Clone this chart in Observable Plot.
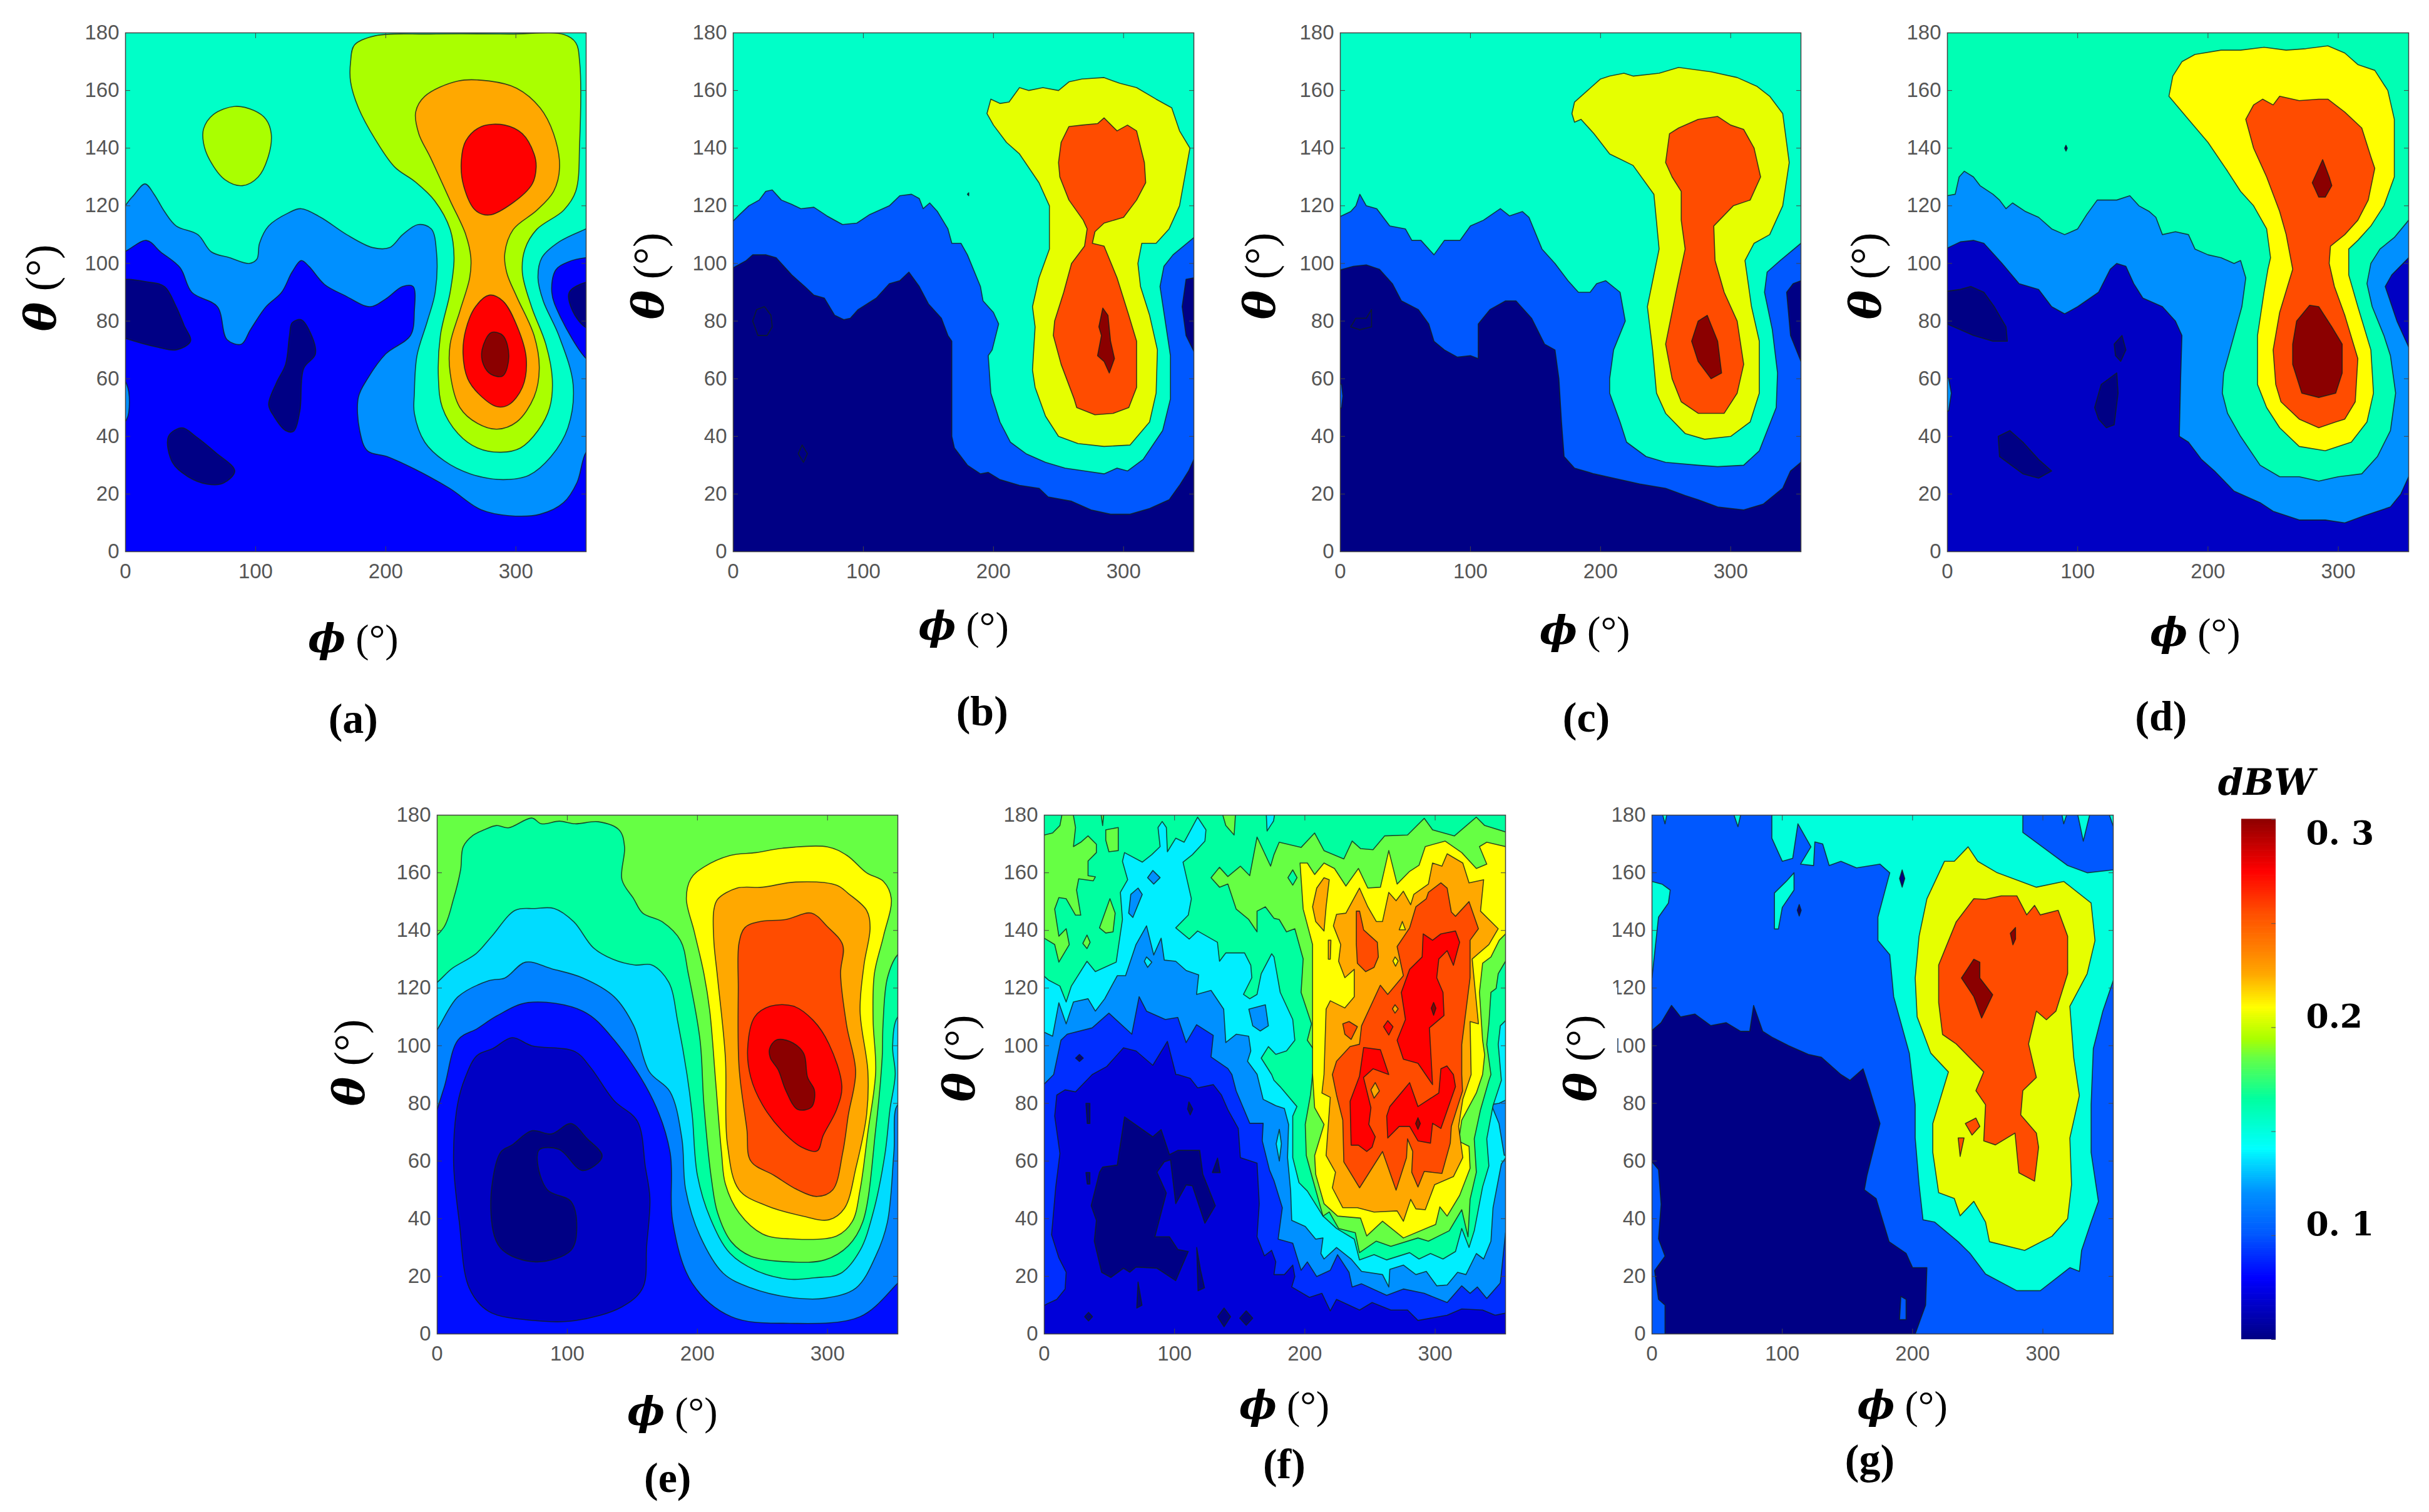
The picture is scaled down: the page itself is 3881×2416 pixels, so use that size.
<!DOCTYPE html>
<html><head><meta charset="utf-8">
<script src="https://cdn.jsdelivr.net/npm/d3@7"></script>
<script src="https://cdn.jsdelivr.net/npm/@observablehq/plot@0.6"></script>
<style>
html,body{margin:0;background:#fff}
#fig{position:relative;width:3881px;height:2416px;overflow:hidden}
#fig svg{position:absolute;background:transparent}
.lab{position:absolute;transform:translate(-50%,-50%);white-space:nowrap;color:#000;font-family:"Liberation Serif",serif}
.sym{font-weight:700;font-style:italic;font-family:"DejaVu Serif",serif}
.unit{font-family:"Liberation Serif",serif;margin-left:.25em}
.mask{position:absolute;background:#fff}
</style></head><body><div id="fig"></div>
<script>
// Colour scale knots (dBW)
const barDomain=[.05,.065,.079,.1,.12,.135,.141,.15,.155,.165,.185,.194,.205,.209,.225,.237,.255,.2746,.3];
const barColors=["#000085","#0000c4","#0000ff","#0058ff","#0090ff","#00dcff","#00ffff","#00ffdc","#00ffc8","#00ffa0","#66ff44","#aaff00","#e6ff00","#ffff00","#ffa800","#ff8000","#ff4c00","#ff0000","#8b0000"];
const barTicks=[.05,.1,.15,.2,.25,.3];
const barLabels=["0. 3","0.2","0. 1"];
const barLabelAt=[.293,.205,.105];
const phiTicks=[0,100,200,300];
const thetaTicks=[0,20,40,60,80,100,120,140,160,180];

// Each panel: base level, then iso-level outlines as phi,theta pairs in degrees, lowest first
const aBase=.079;
const aLevels=[.12,.12,.155,.194,.194,.225,.2746,.2746,.3,.05,.05,.05,.05];
const aLines=[
[-6,104,16,108,27,104,42,98.5,51,90,70.6,85,78,73.6,89,72,96,77,108,85,120,90,128,97,135,101,141,99,153,92.7,168,89,188,85,200,87.7,213,92,221,92,222,83.5,219,75,200,68.6,186,60,179,53.6,180,42,186,35,201,33,222,28.7,249,22,273,14.6,294.6,12.5,318.6,13,336.6,17,347,24,354,34.5,362,37,362,65,354,67,333.6,82,327.6,90,330.6,97.7,340,100.5,354,102,364,102,364,190,-6,190],
[-4,44,1,46,3,52,1,58,-4,61],
[-6,118,5,123,15,127.6,22,124,30,118,39,113,55.6,110,66,104,80,102,95,100,101,101.5,103,107,110,113,125,117.5,135,119,150,116,170,110,190,105.5,203,105.5,213,110,225,113.5,235,112,239,104,238,90,232,80,224,68,222,55,222,48,230,38,245,31.5,265,27,290,25,310,26.5,327,33,340,43,344,58,333,75,321,87,317,95,320,102,333.6,107.6,354,112,364,114,364,190,-6,190],
[60,146.7,67.6,151.7,84,154.5,99,153,108,150,112,145,110,137.5,102,130,90,127,76.6,129,64.6,136,60,141.7],
[173,170,176,175.8,192,179,234,179.6,295,179.6,337,179.4,346,176.6,349,170,349,141.7,346,125,336.6,118.4,316,111.8,307,105,305,96.8,312,85,323,72,328,60,326,50,317,42,303.6,36,288.5,34.5,270.5,36,255.5,41,243.5,50,240.5,60,242,75,249.5,90,252.5,102,249.5,111.8,237.5,121.8,222.4,128.4,207,133.4,192,143,179,154,173,163],
[223,152.5,230,158,255.5,163.3,279.5,163.3,300.6,160.8,318.6,154,329,145,333.6,133.4,329,125,316,118.4,298,111.8,291.5,103.5,293,96.8,300.6,88.5,314,75,318,63.6,314,53.7,300.6,45,285.5,42.5,270.5,44.5,257,50,249.5,62,249.5,72,257,83.5,264.5,95,265.4,102,261.5,110,249.5,121.8,234.4,136.7,225.4,145],
[258,135,261.5,142.5,273.5,147.5,291.5,148,305,145,314,138,315.6,133.4,312.6,127.6,297.6,121,279.5,116.8,269,118.4,260,126.7],
[279.5,89,290,87,300.6,78.6,308,67,305,57,294.6,51,285.5,50.3,272,54.5,263,60,259.4,68.6,261.5,77,269,85],
[274,70,281,76,290,75,294.6,67.8,290,61,281,61.5,275,65],
[-6,93.5,18,93.5,30,92,39,85,45,78.6,50,73,39,70,24,71,0,74,-6,75],
[135,80.5,141,77,146,68.6,137,63.6,134,48.7,129,41.7,123,42,114,47,110,51,116,58.6,123,65,126,75,128,79.4],
[33,40,43.5,43,54,40,69,34.5,84,28,75,23.7,63,23.4,48,26,36,31],
[364,93.5,354,93.5,341,90,343.6,83.5,354,77.7,364,77]
];

const bBase=.05;
const bLevels=[.1,.155,.205,.255,.3,.05,.05,.05];
const bLines=[
[-6,97,10,101,15,103,25,103,33,102,45,96,55,92,62,89,70,88,78,82,85,80.5,90,81,96,84,110,88,120,93,128,94,135,97,143,92,150,86,160,81,165,75,168,73,168,40,170,36,180,30,190,27,196,27.5,205,25,220,23,235,22,242,19,260,17.5,275,14.5,290,13,305,13,320,15,335,18,343,23,350,28,354,32,364,32,364,69,354,69.5,348,75,345,85,348,94.5,354,95,364,95,364,190,-6,190],
[-6,112,5,117,12,120,20,122,25,125,30,125.5,37,122,45,120.5,52,119,62,119.5,72,116.5,84,113.5,95,114,105,117,120,120,128,123.5,137,124,143,122.5,146,119,151,121,157,118,165,112,168,107,175,107,180,103,190,92,192,87,200,83,204,79,199,70,196,68,198,55,205,45,213,38,225,34,240,31,255,29,270,28,285,27,295,29,303,28,315,32,330,42,336,53,336,68,332,80,328,92,331,99,338,103,354,109,364,110,364,190,-6,190],
[195,152,198,157,205,155.5,212,156,220,161,227,160,238,161,250,160,258,163,268,164,285,164.5,297,162.5,310,161,325,157,337,154,343,146,351,140,347,130,343,120,335,112,325,107,314,107,311,100,313,92,320,82,326,70,325,55,320,45,305,37,285,36.5,265,37.5,250,40,240,47,232,57,230,63,232,78,230,85,235,95,243,105,243,120,235,128,220,138,210,142,200,148],
[250,135,252,142,258,147.5,268,148,280,148.5,285,150.5,295,146,303,148,310,146,316,135,317,128,310,122,300,116,285,114,278,111,276,107,285,106,295,95,304,82,310,73,310,57,304,50,292,48,278,47.5,264,50,262,53,252,65,246,75,247,80,254,90,260,100,270,106,272,112,269,115,258,122,251,130],
[281,78,284,84.5,288,82,290,73,293,67,289,62,285,66,280,68,283,75],
[15,80,18,84,24,85,29,82,30,78,26,75,19,75],
[50,34,53,37,57,34,54,31],
[180,124,181,124.5,181,123.5]
];

const cBase=.05;
const cLevels=[.1,.1,.155,.205,.255,.3,.05];
const cLines=[
[-6,97,10,99,20,99.5,30,98,40,93,47,87,60,84,68,79,72,73,80,70,90,67.5,100,68,106,67,106,79,115,84,127,87,135,87,147,81,157,72,165,70,168,60,170,45,172,33,180,29,195,27,210,25.5,230,23.5,250,22,265,19.5,275,18,290,15.5,310,14.5,325,16.5,340,22,346,28,354,31,364,31,364,66,354,66,346,75,343,90,348,93,354,94,364,94,364,190,-6,190],
[-4,48,1,50,2,54,1,58,-4,59],
[-6,115,8,118,12,120,15,124,20,120,28,119,38,113,50,112,55,108,62,108,72,103,80,108,92,108,100,113,110,115,123,119,130,116.5,140,118,145,116,155,105,165,100,175,94,183,90,192,90,197,93,204,94,215,90,219,80,210,70,207,60,207,55,215,45,220,38,235,33,250,31,275,30,290,29.5,310,30,322,35,335,50,336,62,332,77,326,90,328,97,338,101,354,107,364,108,364,190,-6,190],
[178,152,180,156,190,160,200,164,207,165,218,166,225,165,245,166,260,168,285,166.5,305,164.5,320,161.5,330,158,340,152,345,135,340,120,330,110,318,107,311,101,316,85,322,73,322,55,315,45,300,40,280,39,265,41,250,48,243,55,240,70,236,85,245,105,241,124,225,134,207,138,195,145,185,150,180,149],
[250,135,253,145,260,147,275,150,290,151,300,148,310,146.5,318,140,323,130,315,122,302,120,287,113,288,101,295,90,305,80,310,65,305,55,295,48,275,48,262,52,255,60,250,72,258,90,265,105,262,115,262,125,255,130],
[270,73,275,80,282,82,290,73,293,62,285,60,275,66],
[8,78,12,81,20,81,24,84,24,78,15,77]
];

const dBase=.065;
const dLevels=[.12,.12,.16,.209,.255,.3,.3,.05,.05,.05,.05,.05];
const dLines=[
[-6,104,10,107.5,20,108,28,107,42,100,55,93,70,91,80,85,90,82.5,100,85,116,90,125,98,130,100,137,99,143,93,150,88,165,85,175,80,180,75,179,60,178,40,185,38,195,32,205,28,220,21,240,17,250,14,270,11,290,11,305,10,320,12.5,340,15.5,348,20,354,26,364,26,364,71,354,71,345,80,336,92,341,96,354,102,364,102,364,190,-6,190],
[-4,47,1,49,3,55,1,60,-4,62],
[-6,123,6,124,9,130,13,132,20,130,25,127,35,124,40,122,45,119,50,121,60,118,70,116,80,112,90,110,100,112,107,117,115,122,130,122,140,123.5,147,120,155,118,160,116,165,110,175,111,185,110,190,105,200,103,210,102,220,100,225,101,229,95,226,85,220,75,212,62,211,55,215,48,225,40,240,30,255,26,270,26,285,24.5,300,26,318,27,330,33,340,42,344,55,340,68,335,75,326,85,322,93,325,100,332,105,343,109,354,115,364,117,364,190,-6,190],
[170,158,173,165,180,170,190,172.5,210,174,225,174,243,175,260,174,275,174.5,292,175.5,305,173,315,169,328,167,338,160,343,150,343,130,335,120,325,113,315,108,308,105,308,96,315,85,325,70,327,55,322,45,310,38,290,35,270,36.5,255,43,245,50,238,58,238,75,243,90,246,98,248,102,245,112,235,120,225,125,215,132,200,142,185,150],
[229,150,235,155,242,157,250,155,255,158,270,156.5,285,157,292,157,305,152.5,318,147,325,137,328,133,323,122,315,115,305,110,294,106,293,100,297,92,305,82,315,67,313,52,305,46,298,45,285,43,270,46,256,52,252,58,250,70,255,83,265,98,260,110,255,118,245,130,235,140],
[280,128,285,133,288,136,293,130,295,127,290,123,285,123],
[265,72,268,80,278,85.5,285,85,295,78,303,72,303,62,298,55,285,53.5,272,55,265,65],
[-6,90,10,91,18,92,28,90,36,85,45,78,46,73,35,73,20,75,0,79,-6,80],
[128,72,134,75,137,70,133,66,129,68],
[113,50,118,58,130,62,131,55,128,44,122,43,116,46],
[39,40,48,42,58,38,70,32,80,28,70,25.5,58,27,40,33],
[90,140,91,141,92,140,91,139]
];

const eBase=.082;
const eLevels=[.115,.135,.165,.185,.209,.225,.255,.2746,.3,.065,.05];
const eLines=[
[-6,72,5,85,16,102,31,106,46,110.4,70,115,112,112,136,102,166,81,179,63,181,39,196,17.6,226,6,271,3.7,325,6,354,17.6,364,22,364,190,-6,190],
[-6,103,16,117,40,122.6,52,123.5,68,129,88,126.7,112,123.5,136,117,151,107,163,91,179,84,188,68,191,50,202,34,220,21,241,16,271,12.7,298,12.4,322,16,337,27,346,38.8,351,63,354,79.5,364,80,364,190,-6,190],
[-6,121,12,127,30,132,42,138,60,147,75,147.6,90,147.6,105,143,120,134,135,130,152,128,165,128,178,122,185,108,192,90,196,76,200,55,210,40,225,28,245,22,270,19,290,19.5,310,21,325,29,335,42,344,62,348,78,352,90,350,100,354,110,364,112,364,190,-6,190],
[-6,137,5,141,12.6,151,18,161,20,169,27.6,173,36.6,175,45.6,176.4,54.7,175.6,72.7,179,80,177,94,177.9,106,177,124,177.7,140,174.8,144,169,142,157.6,151,151,158,146,173,143,187,136.5,193,125,202,102,205,79.5,211,53,215.5,42,226,32,241,27,271,25,298,25.7,316,30.6,327,38.8,337,71,342,96,342.6,107,346,123.5,354,131.6,364,134,364,190,-6,190],
[191.5,151,195,158,205,162,225,166,245,167,265,168.5,300,169,315,166,330,160,343,157,349,151,343,138,336,125,335,109,337,91,331,70,325,50,319,39,307,34,271,33,250,34.7,232,42,221.5,52,218.5,63,214,87.6,209.5,112,205,125,197.5,139.7],
[212.6,147,215.5,150.8,230.5,154.7,250,155,275.5,156.8,307,155.7,316,152.8,330,147,332.7,141,328,128,325,112,331,91,330,76,322,58,313,43.6,301,39.6,280,41,253,44.5,232,50,223,66,221.5,95.8,215.5,123.5,212.6,136.5],
[232,135.7,236.5,141,247,143,268,143.8,287.6,146,299.7,141.4,311.7,134.9,310,125,314.7,107,321.6,91,316,76,311.7,63,304,50,292,47.7,277,50,259,55,241,60,238,71,232,92.5,231.4,120],
[238.6,99,244,110,256,113.7,274,113.7,289,108.8,301,100.7,311,86,307,77.9,296.7,68.9,292,63.5,280,64.8,265,70.5,250,79.5,241,89],
[255.5,99,260.6,102,271,101.5,281.6,97.4,284.7,89,290,84.4,287.6,78.7,277,77.9,268,84.4,262,91.7,256,95.8],
[15.6,79.5,21.6,89,30.6,96.6,42.7,99,57.7,102.8,72.7,100,105.8,98,117.8,92.5,135.9,81,153.9,73.8,160,58,163.5,47,161,30.6,158,16,142,9.4,105.8,4.6,75.7,4.6,39.7,7.8,24.6,16,17,38.8,12.6,60],
[48.7,63,57.7,65.6,72.7,70.5,87.8,69.4,102.8,73,114.8,68,126.8,61.6,111.8,56.7,93.8,64,78.7,64,77,60,84.7,50,102.8,46,107.3,37,102.8,29,75.7,25,48.7,29.8,41.2,43.6]
];

const fBase=.07;
const fLevels=[.09,.12,.138,.12,.12,.12,.12,.138,.138,.165,.138,.185,.185,.185,.185,.185,.185,.185,.165,.209,.225,.225,.225,.255,.255,.255,.2746,.2746,.2746,.2746,.3,.3,.209,.209,.225,.225,.05,.05,.05,.05,.05,.05,.05,.05,.05,.05,.05];
const fLines=[
[-6,8.3,2.4,10.5,9.6,12,16,15.6,16.8,21.4,11.2,26.4,5.6,34.4,8.8,51,12,62.6,8,75.6,9.6,82.9,16,84.7,24,84,36.8,90,48,92.8,60.8,99.3,70.4,98.2,83.3,93.2,94.5,101.5,101,90,102.5,90,112,88.7,117.7,85.4,129.7,86.5,136,82.9,140.9,77.8,148.9,71.3,150.5,61.2,163.3,59.3,165,45.2,163.3,33.7,169,27.1,174.5,29,177.7,25,176.3,20.6,184.3,20.6,190.7,23.9,192.3,19.9,189.9,16.3,203.5,12.7,213.1,14.1,219.5,8,224.3,12,242,8.3,251.6,10.9,266,8.3,278.8,8.3,286.8,4.7,309.2,6.5,320.4,8.7,336.4,8.3,346,6.5,354,7.2,364,7,364,190,-6,190],
[-6,84,7.2,90,12.8,101.9,17.6,104,36.8,106.2,49.6,111.3,67.2,104,72.8,117,78.5,112,92.9,109.1,102.5,109.8,108.9,101.1,116.9,107.3,129.7,103.6,128,96.1,140.9,92.1,144,90,147.3,84.3,157.7,73.1,168,73.1,167.3,67,172.9,56.8,176.3,53.2,182.7,43.8,179.5,32.9,190.7,31.5,197.1,22.1,201.9,25,209.1,19.9,219.5,22.1,225.1,27.5,233.9,21.4,236.3,16.3,243.5,17.4,262.8,13.4,275.6,15.6,291.6,14.1,309.2,10.9,320.4,16.7,326.8,14.1,332.4,16.3,339.6,12.3,350,17.7,354,35.1,364,35,364,190,-6,190],
[-6,106,6.4,103.3,11.2,114.9,16.8,107.6,22.4,115.2,33.6,116.3,39.2,112,46.4,116.3,56,124.3,62.4,124.3,70.4,135.1,78.5,141.6,84,131.5,89.7,137.3,92.1,129.7,100.9,129.3,108.9,126.1,118.5,124.6,116.9,117.8,128,119.2,137.7,112.7,139.3,101.1,147.3,104,156.9,103.3,158.5,98.2,156,94.6,163.3,90.1,168,81.4,177.7,79.2,184.3,78.2,187.5,72.7,186.7,61.2,189.1,49.6,189.9,39.4,200.3,37.3,208.3,32.9,213.9,33.3,212.3,27.9,214.7,26,224.3,30,235.5,26,243.5,21.7,259.6,20.6,264.4,16.3,265.2,22.4,275.6,23.9,285.2,20.6,293.2,21.7,301.2,16.7,309.2,17,317.2,21.4,323.6,20.6,331.6,27.9,337.2,26,342.8,32.2,344.4,43.8,350.8,59,354,61,364,61,364,190,-6,190],
[83.3,160.8,88.9,158.3,84,156.1,79.3,158.3],
[72,154.7,75.2,152.5,68,144.5,64.8,146,66.4,152.5],
[157,112.7,169.7,114.2,172,106.9,165.7,105.1,160,106.9],
[343,79.6,349,80,358,82,358,62,353,62,349,73],
[178,66,180.4,71,182,66,180.4,60],
[78.5,130.8,82.5,129,79.3,127.2,76.8,129.3],
[-6,126.5,3.2,122.8,12,120.7,16.8,115.2,20.8,120.7,32.8,129.3,39.2,125.7,55.2,129,60,143.8,58.4,153.2,64,157.6,60,164,61.6,167,75.2,163.7,82.5,166.3,88.9,169.1,87.3,175.7,90.5,177.8,93.7,175.7,94.5,167.3,100.9,172,107.3,170.6,117.7,179.3,124.1,174.9,123.3,171,113.7,166.3,106.5,163.7,112.9,151,110.5,145.3,100.9,140.9,111.3,137,117.7,139.8,132.9,135.9,134.5,129.3,139.3,132.2,153.7,132.2,158.5,127.9,159.3,123.6,152.9,117.8,157.7,116.3,163.3,117.8,166.5,125,174.5,131.9,176.3,130.8,181.1,118.5,190.7,109.1,192.3,101.9,185.9,98.2,177.7,97,172,99.7,166.5,95.7,174.5,90,176.3,88,181,85.8,193.9,78.9,190.7,75.6,190.7,61.2,195.5,52.5,201.9,49.6,213.9,40.9,224.3,36.6,237.9,32.9,241.9,25.7,253.1,27.5,262.8,25.7,280.4,28.2,287.6,26,296.4,27.9,306,26,315.6,28.6,320.4,36.6,326,30,330,35.8,336.4,51,341.2,58.3,339.6,67.7,344.4,79.2,350.8,88,348.4,100.5,350,106.9,354,108.7,364,109,364,190,-6,190],
[170,184,178,184,176,178,171,174.5],
[-6,173,0,173.1,6.4,173.8,12,176.4,15.2,184,20.8,184,24,175.7,22.4,169.1,28,170.6,33.6,172.8,40,169.9,40,167,33.6,164.1,33.6,159,39.2,158.6,37.6,157.2,26.4,157.9,24.8,154,28,145.3,24,145.3,16.8,151,11.2,151.4,8,147.4,11.2,138,16.8,140.6,19.2,135.1,11.2,129,8,135.1,0,137.3,-6,137],
[47.2,174.9,56.8,175.7,56.8,167.7,49.6,167.3,47.2,171.3],
[50.4,151,54.4,146,52.8,139.5,47.2,139.1,42.4,140.9],
[32.8,138.4,35.2,135.9,32.8,133.7,29.6,135.5],
[42.4,184,46.4,184,44.8,176.4],
[134.5,184,147.3,184,145.7,173.1,139.3,176.4],
[128,158.3,134.5,161.9,140.9,158.7,150.5,162.3,157.7,159,163.3,172.4,173.7,162.3,176.3,166.3,180.3,170.6,197.1,168.8,207.5,173.8,214.7,167.7,229.9,164.8,236.3,171,242.7,168.4,252.3,168,261.2,172.8,278.8,173.1,291.6,178.9,298,174.9,314.8,172.8,331.6,179.3,338,176.4,354,174.2,364,174,364,129,354,129.3,348.4,125,346.8,119.9,342.8,118.5,341.2,107.6,339.6,100.4,342.8,90,341.2,87.9,334.8,77.8,330,67.7,331.6,56.1,326.8,46.7,325.2,33.7,320.4,43.1,310.8,35.8,294.8,32.2,286.8,33.3,266,30.4,254.8,32.2,241.9,28.2,238.7,35.1,225.9,36.6,218.7,42.3,213.9,40.9,205.9,53.9,201.1,61.9,200.3,72.7,204.3,82.9,205.9,90,210.7,96.1,201.9,101.9,205.1,107.6,197.1,118.5,198.7,130.1,192.3,140.6,185.9,139.5,180.3,143.8,176.3,144.2,169.7,148.2,163.3,146.7,163.3,139.5,156.9,143.8,147.3,147.4,140.9,156.1,134.5,155],
[187,158.3,190.7,161,194,158.3,190.7,155.7],
[196.3,163.4,201.9,163.4,207.5,159.4,214.7,163.4,222.7,161.5,231.5,155.4,241.1,161.5,248.3,154.7,258,155,264.4,167.7,270.8,156.1,280.4,160.5,287.6,162.6,292.4,169.1,307.6,171,320.4,167,331.6,161.5,339.6,163,334,169.1,339.6,170.6,354,169.1,364,169,364,139,354,138.8,349.2,136.6,342.8,130.8,336.4,128.6,334,118.5,336.4,101.9,338,96.8,336.4,90,331.6,83.6,320.4,74.2,318,66.9,326,65.1,326.8,57.5,318.8,48.1,309.2,40.9,303.6,44.1,300.4,38,275.6,33.3,259.6,39.1,247.5,34,242.7,40.2,225.1,40.9,214.7,45.2,208.3,55.4,207.5,61.9,214.7,72.7,207.5,78.5,205.9,90,205.9,135.1,198.7,147.4],
[221.9,141.6,224.3,145.6,231.5,146,241.9,154.7,248.3,148.2,254.8,143.1,259.6,143.1,264.4,153.2,270,150.3,275.6,153.6,281.2,148.9,283.6,152.5,294.8,156.1,298,163.4,305.2,162.3,309.2,166.6,321.2,163.4,326,156.5,337.2,157.6,334.8,146.7,348.4,140.6,341.2,135.1,328.4,130.1,333.2,107.6,326.8,108.4,327.6,90,321.2,81.4,318,72,321.2,61.2,314,54.6,299.6,51.8,292.4,43.1,285.2,43.4,281.2,46.7,275.6,39.1,270.8,42.7,253.1,42.3,240.3,43.8,229.1,43.8,221.1,50.7,223.5,56.1,216.3,61.9,219.5,82.1,213.1,83.6,214.7,90,216.3,112.7,219.5,115.6,230.7,113.1,237.9,117,237.9,126.5,230.7,123.6,225.9,129.3,227.5,135.1],
[214.7,158.3,218.7,157.6,216.3,148.2,214.7,139.8,208.3,143.1,205.9,148.2,209.1,154.7],
[218,136.6,220,136.6,219.5,130,218,130],
[270.8,134.4,280.4,140.9,285.2,148.2,293.2,151,294.8,153.2,304.4,156.5,309.2,154.7,312.4,146.4,315.6,144.9,326,150,333.2,140.6,326.8,136.6,326.8,123.6,320.4,100.4,320.4,90,321,84.3,312.4,72,311.6,66.2,305.2,55.7,291.6,56.4,286.8,51,282,56.1,282.8,63.3,278.8,67.7,278,61.2,270,49.9,259.6,63.3,242,50.7,229.9,59.7,229.1,74.2,224.3,82.9,221.1,90,224.3,94.6,234.7,99.7,241.9,100.5,243.5,106.9,257.9,121,263.6,117.8,275.6,124.3],
[239.5,146.7,242,146.7,245.1,140.2,255.6,135.9,256.4,130.8,253.1,127.2,246.7,125.7,240.3,128.6,239.5,135.1],
[229.1,107.6,233.9,108.4,240.3,106.6,235.5,102.2,230.7,104],
[263.6,108.7,267.6,106.6,264.4,103.7,260.4,106.6],
[290.8,138.8,298,136.6,304.4,138.8,315.6,139.8,318.8,135.9,314,127.9,309.2,133,302.8,130.1,301.2,123.6,306,118.5,306.8,110.5,295.6,106.2,298,86.5,286.8,93.9,275.6,95.3,270.8,101.9,277.2,109.1,274,118.5,280.4,126.5,290,130.8],
[245.1,99.4,258,98.6,264.4,90,252.3,92,245,89,250.7,78.5,249.1,72.7,254,68.4,251.6,64.8,247.5,63.3,241.1,65.5,235.5,65.5,234.7,80.7,241.9,89.4],
[262.8,75.6,265.2,78.9,280.4,87.2,286.8,78.9,302.8,83.6,304.4,92,309,93,314,90,315.6,85.8,304.4,71.3,298,73.1,296.4,66.2,286.8,67,280.4,72,272.4,72,263.6,68],
[297,113,298.8,115,300.6,113,298.8,110.6],
[285,73,286.8,75,288.6,73,286.8,71],
[274.8,143.1,277.2,140.2,272.4,140.2],
[269.2,130.8,271.6,129.4,269.6,127.6,267.6,129.4],
[269.2,114.2,271.6,112.8,269.2,111.3,267.2,112.8],
[254,87.2,257.2,84.3,253.1,81.8,250.7,84.7],
[61.6,75.3,83.3,68.4,89.7,70.9,96.1,62.2,102.5,63.7,119.3,63.7,121.7,55.4,131.3,44.5,123.3,38.4,113.7,51.4,108.9,51.7,100.9,45.2,96.9,60.4,92.1,59.7,86.5,56.1,93.7,48.9,84.9,33.7,96.1,33.7,102.5,29.3,110.5,28.6,100.9,18.5,86.5,22.8,70.4,23.2,65.6,21.4,60.8,22.8,51.2,19.6,44,21.4,38.4,32.2,40,39.4,36,44.5,42.4,56.1,44.8,57.9,56,58.6],
[32,80,35,80,35,73,33,73],
[111,80.5,114,78,112,76,110,78],
[32,56,35,56,35,52,33,52],
[133,61,135,56,129,56],
[117,30,120,22,123,16,118,15],
[72,18,75,10,71,9],
[31,6,34,7.5,37,6,34,4.5],
[133,6,138,9,143,6,138,2.5],
[150,5.5,155,8,160,5.5,155,3],
[24,95.7,27,97,30,95.7,27,94.5]
];

const gBase=.1;
const gLevels=[.05,.1,.15,.15,.15,.15,.15,.15,.15,.15,.205,.255,.255,.255,.3,.3,.05,.05];
const gLines=[
[-6,103,7,108,15,114,22,110,33,111,45,107,57,108,68,105,75,105,78,114,85,105,92,103,105,100,120,97,130,96,145,90,152,88,162,92,167,85,175,73,165,55,163,50,172,47,182,32,195,28,200,23,211,23,210,10,202,0,200,-6,12,-6,10,0,10,10,5,12,2,22,10,27,5,33,7,45,5,57,-6,63],
[190,5,195,5,195,12,191,13],
[92,184,92,172,100,164,108,165,112,177,122,169,114,163,124,162.5,125,170.7,131,170,136,162.5,145,164,157,161.7,175,163,182.5,160,173.4,144.6,173.4,136.5,182.5,131.6,185.5,117,197.5,97.4,202,79.5,202,68,205,51.8,208,39.6,217,38.8,235,32,244,28,256,20.8,280,15,298,15,320.7,23,328,21.7,329.7,29,337,38.8,342.6,46,337,63,337,79.5,338.7,99,346,112,354,122.6,364,123,364,161,354,161,334,160,319,162.5,284.6,174,284.6,184],
[-6,123.5,0,123.5,5,144.6,12.6,149.5,14,154,8,156,0,157,-6,157],
[94,140.5,97,140.5,100,148,109,154,109,160,103,157,94,153],
[6,184,13,184,10,177],
[60,184,70,184,66,176],
[313,184,321,184,316,177],
[325,184,338,184,331,171],
[348,184,358,184,358,171],
[202,123.5,205,138,211,151,224.5,164,232,164,242.6,169,250,164,265,160,295,155,316,157,337,149.5,340,136.5,334,125,320.7,113.7,323.7,95.8,328,82.7,320.7,68,322,51.8,319,40,307,33.9,286,29,259,32,256,38.8,247,46,236.5,41,232,47,220,49,215.5,63,215.5,73,227.5,90.9,214,97.4,203.5,110],
[220,115,220,128,233.5,143,247,151,256,150.8,268,152,280,152,287.6,145.4,293.6,148.7,298,145.4,311.7,147,319,138,319,125,310,112,302.7,109,295,112,289,100.6,295,89,284.6,84.4,283,76,295,69.7,296.7,64.8,293.6,53,281.6,55.9,278.6,69.7,263.6,65.6,254.6,67,256,79.5,248.6,84.4,254.6,90.9,233.5,100.6,223,103.9],
[240.5,73,248.6,74.9,251.6,72,245.6,69],
[235,68,239.5,68,236.5,61.6],
[237.5,123.5,247,130,251.6,129,251.6,123.5,261.5,117.7,253,109.6,247,117],
[275,139,279,141,279,137,277,135],
[190,158,192,161,194,158,192,155],
[111.5,147,113,149,114.5,147,113,145]
];

const panels=[
 {base:aBase,levels:aLevels,lines:aLines,curve:"catmull-rom-closed",box:[200,936,52,881],phi:[228,412],theta:[26,186],tag:["(a)",228,464]},
 {base:bBase,levels:bLevels,lines:bLines,curve:"linear-closed",box:[1171,1907,52,881],phi:[622,404],theta:[418,178],tag:["(b)",634,459]},
 {base:cBase,levels:cLevels,lines:cLines,curve:"linear-closed",box:[2141,2877,52,881],phi:[1023,407],theta:[813,178],tag:["(c)",1024,463]},
 {base:dBase,levels:dLevels,lines:dLines,curve:"linear-closed",box:[3111,3848,52,881],phi:[1417,408],theta:[1204,178],tag:["(d)",1395,462]},
 {base:eBase,levels:eLevels,lines:eLines,curve:"catmull-rom-closed",box:[698,1434,1302,2131],phi:[434,911],theta:[225,686],tag:["(e)",431,954]},
 {base:fBase,levels:fLevels,lines:fLines,curve:"linear-closed",box:[1668,2405,1302,2131],phi:[829,907],theta:[619,683],tag:["(f)",829,945]},
 {base:gBase,levels:gLevels,lines:gLines,curve:"linear-closed",box:[2639,3376,1302,2131],phi:[1228,907],theta:[1020,683],tag:["(g)",1207,942]}
];

const colorOpts={type:"linear",domain:barDomain,range:barColors,interpolate:"rgb",clamp:true};
const fig=document.getElementById("fig");
const K=3881/1568;
const M=80;

function lab(html,x,y,size,rot){
  const d=document.createElement("div");d.className="lab";
  d.innerHTML=html;d.style.left=x*K+"px";d.style.top=y*K+"px";d.style.fontSize=size+"px";
  if(rot)d.style.transform="translate(-50%,-50%) rotate(-90deg)";
  fig.appendChild(d);
}

for(const p of panels){
  const [x0,x1,y0,y1]=p.box;
  const rows=[];
  const all=[[-6,-6,364,-6,364,190,-6,190],...p.lines];
  const lv=[p.base,...p.levels];
  all.forEach((ln,i)=>{for(let j=0;j<ln.length;j+=2)rows.push({id:i,phi:ln[j],theta:ln[j+1],level:lv[i]});});
  const axisStyle={fontFamily:"Liberation Sans, Arial, sans-serif",fontSize:33,fill:"#555",stroke:"#444"};
  const svg=Plot.plot({
    width:x1-x0+2*M,height:y1-y0+2*M,
    marginLeft:M,marginRight:M,marginTop:M,marginBottom:M,
    x:{domain:[0,354],label:null},
    y:{domain:[0,180],label:null},
    color:colorOpts,
    style:{background:"transparent",overflow:"visible"},
    marks:[
      Plot.line(rows,{x:"phi",y:"theta",z:"id",fill:"level",stroke:"#10201a",strokeWidth:1.6,strokeOpacity:.8,curve:p.curve,clip:true}),
      Plot.frame({stroke:"#444",strokeWidth:1.5}),
      Plot.axisX(phiTicks,{anchor:"bottom",tickSize:-8,tickPadding:27,...axisStyle,label:null}),
      Plot.axisX(phiTicks,{anchor:"top",tickSize:-8,tickFormat:()=>"",...axisStyle,label:null}),
      Plot.axisY(thetaTicks,{anchor:"left",tickSize:-8,tickPadding:18,...axisStyle,label:null}),
      Plot.axisY(thetaTicks,{anchor:"right",tickSize:-8,tickFormat:()=>"",...axisStyle,label:null})
    ]
  });
  svg.style.left=(x0-M)+"px";svg.style.top=(y0-M)+"px";
  fig.appendChild(svg);
  if(p.tag[0]==="(g)"){
    const m=document.createElement("div");m.className="mask";
    m.style.cssText="left:2545px;top:1578px;width:39px;height:125px";
    fig.appendChild(m);
  }
  lab('<span class="sym">ϕ</span><span class="unit">(°)</span>',p.phi[0],p.phi[1],64);
  lab('<span class="sym">θ</span><span class="unit">(°)</span>',p.theta[0],p.theta[1],70,true);
  lab('<b>'+p.tag[0]+'</b>',p.tag[1],p.tag[2],68);
}

// Colour bar
const barX=[3581,3636],barY=[1309,2140];
const steps=d3.range(.05,.3,.001);
const bar=Plot.plot({
  width:barX[1]-barX[0]+2*M+140,height:barY[1]-barY[0]+2*M,
  marginLeft:M,marginRight:M+140,marginTop:M,marginBottom:M,
  x:{domain:[0,1],axis:null},y:{domain:[.05,.3],axis:null},color:colorOpts,
  style:{background:"transparent",overflow:"visible"},
  marks:[
    Plot.rect(steps,{x1:0,x2:1,y1:d=>d,y2:d=>d+.0012,fill:d=>d}),
    Plot.tickY(barTicks,{y:d=>d,stroke:"#555",strokeWidth:1,insetLeft:48}),
    Plot.text(barLabelAt,{x:1,y:d=>d,text:(d,i)=>barLabels[i],textAnchor:"start",dx:48,fontSize:52,fontWeight:700,fontFamily:"DejaVu Serif, serif",fill:"#000"})
  ]
});
bar.style.left=(barX[0]-M)+"px";bar.style.top=(barY[0]-M)+"px";
fig.appendChild(bar);
lab('<span class="sym">dBW</span>',1463,505,58);
</script></body></html>
